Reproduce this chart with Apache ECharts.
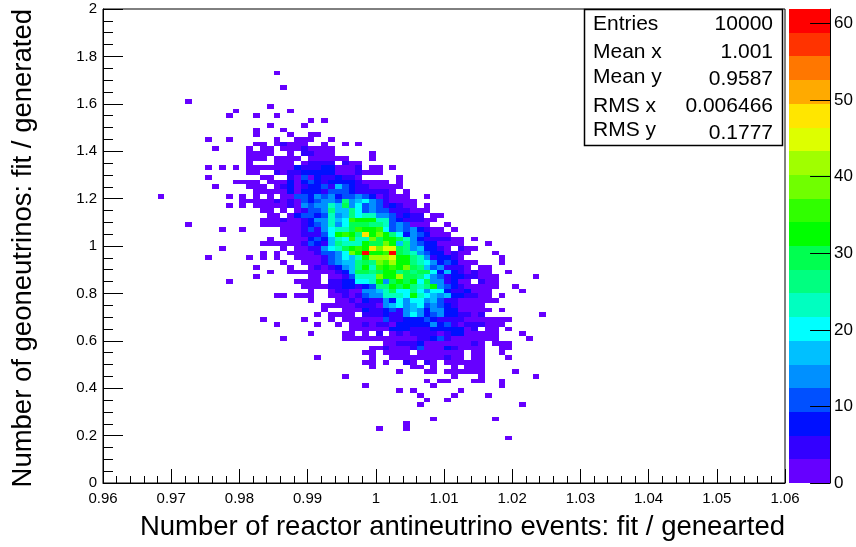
<!DOCTYPE html>
<html><head><meta charset="utf-8">
<script src="https://cdn.jsdelivr.net/npm/echarts@6/dist/echarts.min.js"></script>
<style>html,body{margin:0;padding:0;background:#fff}#c{width:856px;height:547px}</style>
</head><body><div id="c"></div>
<script>
const xMin = 0.96, xMax = 1.06, xBinWidth = 0.001;
const yMin = 0, yMax = 2, yBinWidth = 0.02;
const zMax = 61.9;
const paletteColors = ['#6600ff','#3300ff','#0010ff','#0050ff','#0090ff','#00c0ff','#00ffff','#00ffc0','#00ff80','#00ff50','#00ff00','#30ff00','#70ff00','#a0ff00','#ddff00','#ffe600','#ffaa00','#ff7700','#ff3300','#ff0000'];
const statNames = ['Entries','Mean x','Mean y','RMS x','RMS y'];
const statValues = ['10000','1.001','0.9587','0.006466','0.1777'];
const xTitle = 'Number of reactor antineutrino events: fit / genearted';
const yTitle = 'Number of geoneutrinos: fit / generated';

// Each row: y bin number, first x bin number, then counts per x bin
const rows = [
[86,25,1],[83,26,1],[80,12,1],[79,24,1],
[78,19,1,0,0,0,0,0,0,0,1],
[77,18,1,0,0,0,1,0,0,1],
[76,30,1,0,1],
[75,24,1,0,0,0,0,1],
[74,22,1,0,0,0,1],
[73,22,1,0,0,0,0,1,0,0,1,1],
[72,15,1,0,0,1,0,0,0,0,0,0,1,0,0,1,1,1,0,0,1],
[71,22,1,1,0,1,4,1,2,1,0,0,1,0,0,1,0,1],
[70,16,1,0,0,0,0,1,0,1,1,0,2,1,1,4,2,2,2,2],
[69,21,1,1,1,1,0,0,1,0,4,4,2,2,2,0,0,0,0,0,1],
[68,21,1,2,1,0,1,1,2,1,0,2,2,2,2,1,1,0,0,0,1],
[67,21,1,0,0,0,2,2,1,0,2,4,4,4,4,0,4,2,2],
[66,15,1,0,1,0,1,0,1,1,1,1,1,1,2,8,4,4,4,8,8,2,2,2,4,0,1,1,0,1],
[65,21,1,1,0,0,4,1,4,4,8,8,8,8,8,2,2,2,4,1,1,1],
[64,15,1,0,0,0,0,0,0,0,1,1,0,0,4,1,11,2,8,4,4,8,4,4,2,0,0,0,0,0,1],
[63,19,1,1,1,1,0,1,1,1,8,1,8,11,8,4,8,8,8,8,4,1,1,1,1,0,1],
[62,16,1,0,0,0,0,1,1,1,0,1,4,8,1,4,8,8,11,4,17,11,8,4,4,2,1,1,1,1],
[61,22,1,1,1,1,1,8,1,8,8,8,4,11,11,11,8,4,4,4,4,4,1,0,1],
[60,8,1,0,0,0,0,0,0,0,0,0,1,0,1,0,1,0,1,0,1,1,11,11,8,14,11,14,8,11,11,14,11,8,1,4,1,1,1,0,0,1],
[59,20,1,1,1,1,1,4,1,4,1,11,8,11,14,14,11,26,14,17,20,14,11,4,1,1,1,1],
[58,18,1,0,1,0,1,1,1,1,1,4,1,14,11,14,14,23,17,30,14,20,11,14,11,4,8,4,1,1,0,1],
[57,23,1,1,0,1,0,1,4,11,11,14,26,17,17,26,20,11,14,11,11,4,4,4,1,1,1],
[56,24,1,1,0,1,8,11,11,8,11,23,14,17,26,20,23,23,14,14,11,4,8,4,4,0,1,1],
[55,23,1,1,1,4,1,1,4,8,14,14,23,17,20,36,33,33,33,23,23,11,8,4,4,4,1,1],
[54,12,1,0,0,0,0,0,0,0,0,0,0,1,1,1,1,1,1,4,8,11,14,23,14,20,30,30,30,26,26,23,11,14,11,1,1,1,0,0,1],
[53,17,1,0,0,1,0,0,0,0,0,1,1,1,4,11,4,14,20,23,23,30,36,33,33,36,20,11,14,11,14,8,4,1,1,0,1],
[52,26,1,1,1,4,4,4,11,20,33,36,33,26,48,33,39,33,26,20,8,14,11,8,1,1,1],
[51,24,1,0,0,1,1,1,8,11,8,17,23,20,36,23,23,39,30,33,33,30,23,14,8,4,4,4,4,1,1,0,1],
[50,23,1,1,1,1,1,1,4,11,8,4,17,26,23,23,23,33,30,30,39,33,17,26,14,11,8,8,1,1,1,1,0,0,0,1],
[49,17,1,0,0,0,0,0,0,0,0,1,0,1,1,4,4,14,20,23,30,33,36,33,48,39,45,45,30,26,14,17,8,8,4,1,0,4,1,1],
[48,23,1,0,1,0,1,1,1,1,4,11,11,14,20,39,33,60,33,33,36,60,30,26,23,14,11,8,8,1,4,1,1,0,0,0,1],
[47,15,1,0,0,0,0,0,1,0,1,0,1,0,0,1,1,1,1,4,11,14,20,17,23,33,42,42,42,45,33,33,26,23,14,4,8,8,4,1,0,0,0,0,0,1],
[46,26,1,0,0,1,1,1,4,11,14,17,17,26,30,26,39,36,42,33,33,26,23,20,14,8,11,8,1,1,1,0,0,0,1],
[45,22,1,0,0,0,0,1,0,0,1,4,1,4,8,14,17,26,33,23,36,33,36,33,39,30,26,17,11,14,4,4,4,1,0,1,1],
[44,24,1,0,0,1,1,1,1,1,1,1,4,8,17,30,30,26,30,33,33,26,30,26,30,30,20,8,17,8,4,1,4,1,1,0,0,1],
[43,22,1,0,0,0,0,0,0,0,1,1,0,1,1,4,11,23,23,23,39,33,33,42,30,30,26,20,14,11,4,8,8,4,4,1,1,1,0,0,0,0,0,1],
[42,18,1,0,0,0,0,0,0,0,0,0,1,1,1,1,0,4,4,8,8,20,20,23,33,14,30,33,30,33,20,30,14,14,4,8,1,1,0,4,1,1],
[41,29,1,1,1,1,4,4,8,8,4,8,11,26,26,33,30,33,26,23,26,33,14,11,8,4,1,1,1,1,1,0,0,1],
[40,30,1,0,0,1,4,4,1,1,14,14,17,23,30,20,20,26,20,14,20,20,8,4,4,8,1,1,1,0,0,0,0,1],
[39,25,1,1,0,1,1,1,0,0,1,1,4,1,4,11,14,14,23,23,23,20,33,23,20,17,14,17,8,8,4,4,1,1,0,1],
[38,30,1,0,0,0,1,1,4,1,8,4,4,14,8,20,14,20,20,14,17,11,4,4,1,1,1,1,1,1],
[37,32,1,1,1,1,1,4,4,4,1,14,17,20,14,17,20,11,14,11,8,4,1,1,1,1],
[36,32,1,0,0,1,1,1,8,4,4,8,11,4,14,17,14,8,14,14,8,8,1,1,1,1,1,0,1],
[35,31,1,0,1,1,1,1,0,4,4,4,8,4,4,14,20,14,8,11,14,8,8,4,4,1,4,0,0,0,0,0,0,0,0,1],
[34,23,1,0,0,0,0,0,1,0,0,0,1,0,1,1,1,1,1,1,11,4,4,8,8,8,11,8,4,4,4,4,1,1,1,1,1,1,1],
[33,25,1,0,0,0,0,0,1,0,0,1,0,1,1,4,1,4,4,1,8,8,8,8,8,14,8,11,4,1,4,4,4,1,1,1],
[32,36,1,1,1,1,1,1,8,8,8,4,4,4,8,8,8,8,8,1,4,0,1,1,0,1],
[31,30,1,0,0,0,0,1,1,0,1,0,4,0,1,4,1,4,4,4,4,1,4,8,8,1,1,1,1,1,0,0,0,1],
[30,26,1,0,0,0,0,0,0,0,0,1,1,1,1,1,1,1,1,1,1,1,4,4,8,11,4,1,1,1,1,1,1,1,0,0,0,0,1],
[29,41,1,1,4,4,4,8,1,1,1,1,1,1,1,4,1,0,1,1,1],
[28,39,1,1,4,1,1,1,4,11,1,1,1,8,4,1,1,1,1,0,0,1,1],
[27,38,1,1,0,1,1,1,1,0,1,1,1,1,1,1,1,0,1,1,0,0,1],
[26,31,1,0,0,0,0,0,0,0,1,0,0,1,1,1,1,1,1,1,1,4,1,1,0,1,1,0,0,0,1],
[25,38,1,1,0,1,0,0,4,1,0,4,1,0,1,1,1,1,1,1],
[24,39,1,0,0,0,0,0,1,1,0,1,0,0,1,0,1,1,1],
[23,43,1,0,0,0,1,1,0,1,1,1,1,1,1,0,0,0,0,1],
[22,35,1,0,0,0,0,0,0,0,0,0,0,0,0,0,0,0,1,0,0,0,1,0,0,0,0,0,0,0,1],
[21,47,1,0,1,1,0,0,0,1,1,0,0,1],
[20,38,1,0,0,0,0,0,0,0,0,0,1,0,0,0,0,0,0,0,0,0,1],
[19,43,1,0,1,0,0,0,0,0,0,1],
[18,46,1,0,0,0,0,1,0,0,0,0,1],
[17,47,1,0,0,1],
[16,46,1,0,0,0,0,0,0,0,0,0,0,0,0,0,0,1],
[13,48,1,0,0,0,0,0,0,0,0,1],
[12,44,1],
[11,40,1,0,0,0,1],
[9,59,1]
];

const cells = [];
rows.forEach(r => {
  for (let k = 2; k < r.length; k++) {
    if (r[k] > 0) cells.push([xMin + (r[1] + k - 2) * xBinWidth, yMin + r[0] * yBinWidth, r[k]]);
  }
});
const levelStep = zMax / paletteColors.length;
const bands = paletteColors.map((c, i) => [0, i * levelStep, (i + 1) * levelStep, i]);
const fmt = v => String(+(+v).toFixed(2));

function box(api, x0, y0, x1, y1, color) {
  const a = api.coord([x0, y0]), b = api.coord([x1, y1]);
  const left = Math.round(a[0]), right = Math.round(b[0]), bottom = Math.round(a[1]), top = Math.round(b[1]);
  return { type: 'rect', shape: { x: left, y: top, width: right - left, height: bottom - top }, style: { fill: color } };
}

const statsGraphic = [
  { type: 'rect', z: 100, shape: { x: 584.5, y: 9.5, width: 198, height: 136 }, style: { fill: '#fff', stroke: '#000', lineWidth: 1.5 } }
];
const statY = [24, 52, 77, 106, 130], valueY = [24, 52, 79, 106, 133];
statNames.forEach((n, i) => {
  statsGraphic.push({ type: 'text', z: 101, style: { text: n, x: 593, y: statY[i], fill: '#000', font: '21px "Liberation Sans"', verticalAlign: 'middle', align: 'left' } });
  statsGraphic.push({ type: 'text', z: 101, style: { text: statValues[i], x: 773, y: valueY[i], fill: '#000', font: '21px "Liberation Sans"', verticalAlign: 'middle', align: 'right' } });
});

const chart = echarts.init(document.getElementById('c'), null, { renderer: 'canvas' });
chart.setOption({
  animation: false,
  backgroundColor: '#fff',
  textStyle: { fontFamily: '"Liberation Sans"' },
  grid: [
    { left: 103, top: 9, width: 682, height: 474, show: true, borderColor: '#000', borderWidth: 1, backgroundColor: '#fff' },
    { left: 789, top: 9, width: 42, height: 474 }
  ],
  xAxis: [
    { type: 'value', gridIndex: 0, min: xMin, max: xMax, interval: 0.01, splitLine: { show: false },
      axisLine: { show: true, onZero: false, lineStyle: { color: '#000', width: 1 } },
      axisTick: { inside: true, length: 14, lineStyle: { color: '#000' } },
      minorTick: { show: true, splitNumber: 5, length: 7, lineStyle: { color: '#000' } },
      axisLabel: { color: '#000', fontSize: 15, margin: 8, formatter: fmt, showMinLabel: true, showMaxLabel: true, hideOverlap: false },
      name: xTitle, nameLocation: 'end', nameGap: 0,
      nameTextStyle: { fontSize: 27.5, color: '#000', align: 'right', verticalAlign: 'top', padding: [30, 0, 0, 0] } },
    { type: 'value', gridIndex: 1, min: 0, max: 1, show: false }
  ],
  yAxis: [
    { type: 'value', gridIndex: 0, min: yMin, max: yMax, interval: 0.2, splitLine: { show: false },
      axisLine: { show: true, onZero: false, lineStyle: { color: '#000', width: 1 } },
      axisTick: { inside: true, length: 20, lineStyle: { color: '#000' } },
      minorTick: { show: true, splitNumber: 4, length: 10, lineStyle: { color: '#000' } },
      axisLabel: { color: '#000', fontSize: 15, margin: 6, formatter: fmt, showMinLabel: true, showMaxLabel: true, hideOverlap: false },
      name: yTitle, nameLocation: 'end', nameGap: 0, nameRotate: 90,
      nameTextStyle: { fontSize: 27.5, color: '#000', align: 'right', verticalAlign: 'bottom', padding: [0, 0, 66, 0] } },
    { type: 'value', gridIndex: 1, min: 0, max: zMax, interval: 10, position: 'right', z: 10, splitLine: { show: false },
      axisLine: { show: true, onZero: false, lineStyle: { color: '#000', width: 1 } },
      axisTick: { inside: true, length: 20, lineStyle: { color: '#000' } },
      axisLabel: { color: '#000', fontSize: 17, margin: 4, showMinLabel: true, showMaxLabel: false, hideOverlap: false } }
  ],
  series: [
    { type: 'custom', xAxisIndex: 0, yAxisIndex: 0, silent: true, clip: true, encode: { x: 0, y: 1 }, data: cells,
      renderItem: (p, api) => {
        const x = api.value(0), y = api.value(1), v = api.value(2);
        const lvl = Math.min(paletteColors.length - 1, Math.floor(v / levelStep));
        return box(api, x, y, x + xBinWidth, y + yBinWidth, paletteColors[lvl]);
      } },
    { type: 'custom', xAxisIndex: 1, yAxisIndex: 1, silent: true, encode: { x: 0, y: [1, 2] }, data: bands,
      renderItem: (p, api) => box(api, 0, api.value(1), 1, api.value(2), paletteColors[api.value(3)]) }
  ],
  graphic: statsGraphic
});
</script></body></html>
